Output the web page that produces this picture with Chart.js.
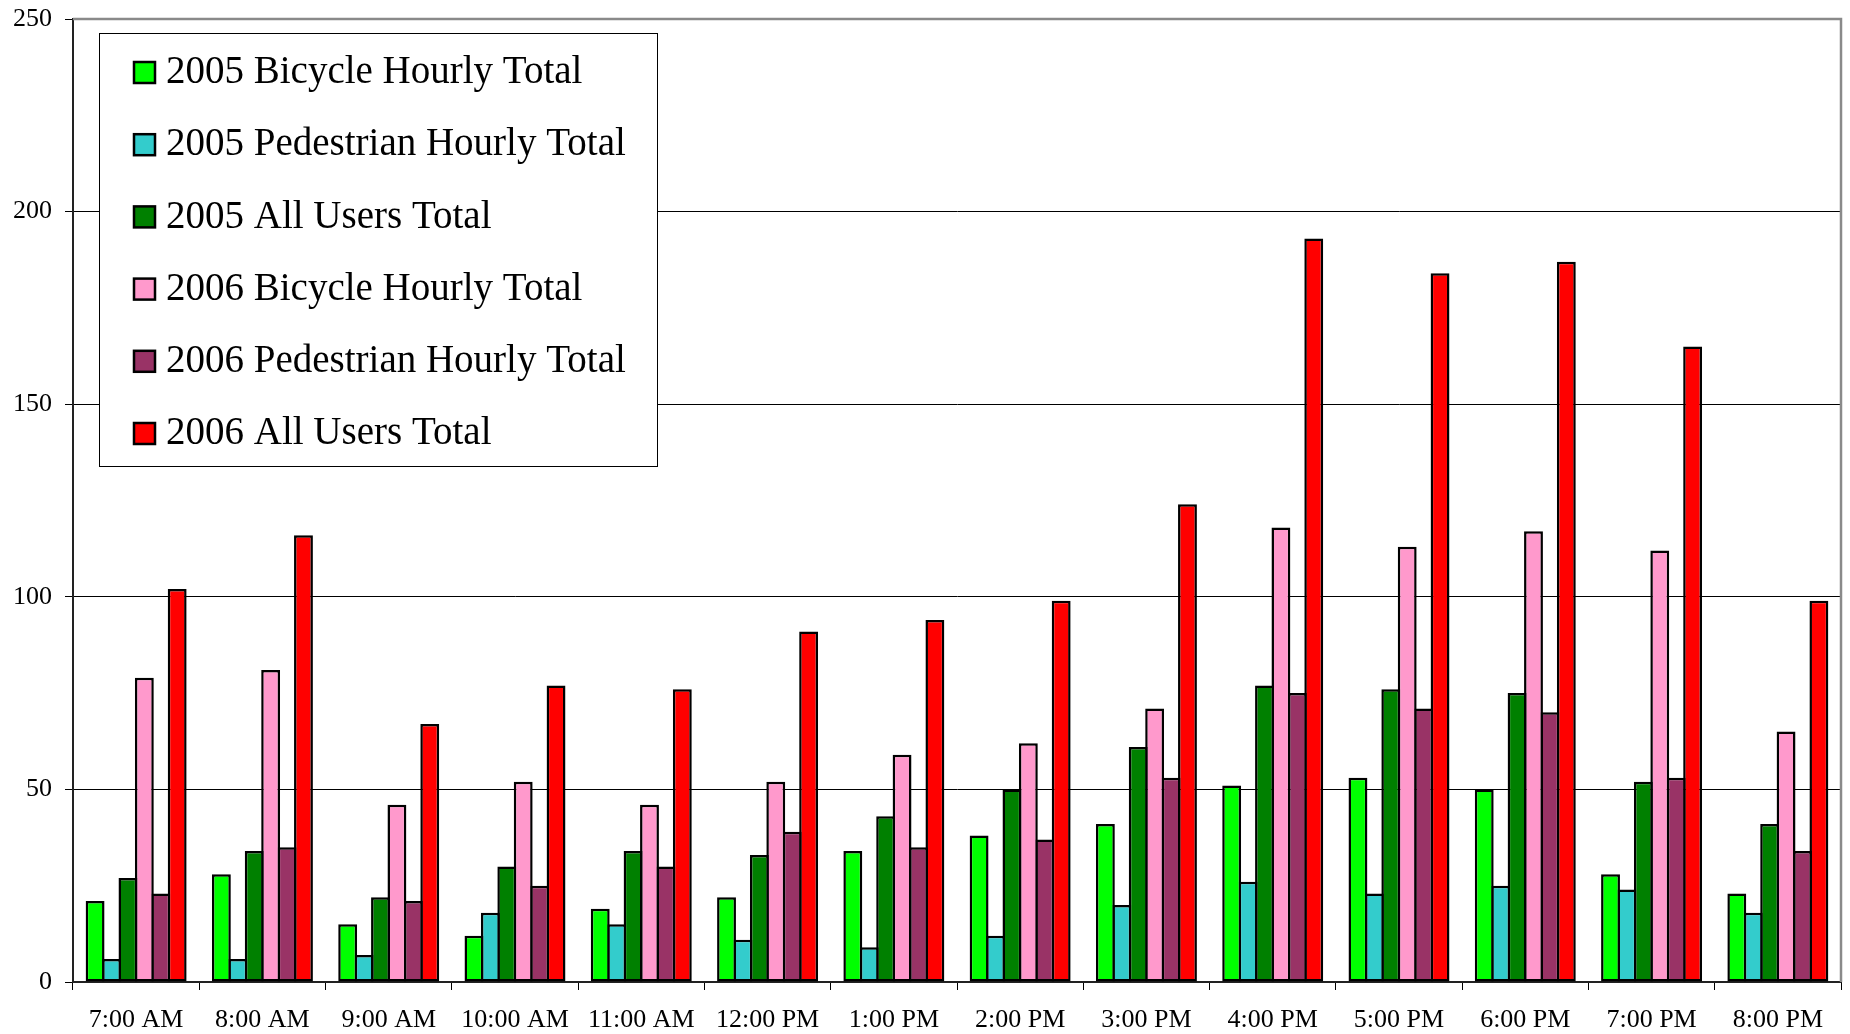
<!DOCTYPE html>
<html>
<head>
<meta charset="utf-8">
<title>Hourly Trail Counts 2005 / 2006</title>
<script src="https://cdn.jsdelivr.net/npm/chart.js@4/dist/chart.umd.min.js"></script>
<style>
  html, body { margin: 0; padding: 0; background: #ffffff; }
  #wrap { width: 1850px; height: 1034px; }
</style>
</head>
<body>
<div id="wrap"><canvas id="counts" width="1850" height="1034"></canvas></div>
<script>
// Hourly counts, one value per hour
const hours = ['7:00 AM', '8:00 AM', '9:00 AM', '10:00 AM', '11:00 AM', '12:00 PM', '1:00 PM',
               '2:00 PM', '3:00 PM', '4:00 PM', '5:00 PM', '6:00 PM', '7:00 PM', '8:00 PM'];
const bike2005 = [21, 28, 15, 12, 19, 22, 34, 38, 41, 51, 53, 50, 28, 23];
const ped2005  = [6, 6, 7, 18, 15, 11, 9, 12, 20, 26, 23, 25, 24, 18];
const all2005  = [27, 34, 22, 30, 34, 33, 43, 50, 61, 77, 76, 75, 52, 41];
const bike2006 = [79, 81, 46, 52, 46, 52, 59, 62, 71, 118, 113, 117, 112, 65];
const ped2006  = [23, 35, 21, 25, 30, 39, 35, 37, 53, 75, 71, 70, 53, 34];
const all2006  = [102, 116, 67, 77, 76, 91, 94, 99, 124, 193, 184, 187, 165, 99];
const yTicks   = [0, 50, 100, 150, 200, 250];

const seriesNames = ['2005 Bicycle Hourly Total', '2005 Pedestrian Hourly Total', '2005 All Users Total',
                     '2006 Bicycle Hourly Total', '2006 Pedestrian Hourly Total', '2006 All Users Total'];
const seriesValues = [bike2005, ped2005, all2005, bike2006, ped2006, all2006];
const seriesColors = ['#00ff00', '#33cccc', '#008000', '#ff99cc', '#993366', '#ff0000'];

const SERIF = "'Liberation Serif', 'Times New Roman', serif";

// Legend box drawn inside the plot area, upper left
const boxedLegend = {
  id: 'boxedLegend',
  afterDatasetsDraw(chart) {
    const { ctx, chartArea: a } = chart;
    const x0 = a.left + 26, y0 = a.top + 14, w = 558, h = 433;
    ctx.save();
    ctx.fillStyle = '#ffffff';
    ctx.fillRect(x0, y0, w, h);
    ctx.strokeStyle = '#000000';
    ctx.lineWidth = 1;
    ctx.strokeRect(x0 + 0.5, y0 + 0.5, w, h);
    ctx.font = '39px ' + SERIF;
    ctx.textBaseline = 'middle';
    ctx.textAlign = 'left';
    chart.data.datasets.forEach((ds, i) => {
      const cy = y0 + 39 + i * 72.2;
      ctx.fillStyle = ds.backgroundColor;
      ctx.fillRect(x0 + 35, cy - 10, 21, 21);
      ctx.strokeStyle = '#000000';
      ctx.lineWidth = 2.5;
      ctx.strokeRect(x0 + 35, cy - 10, 21, 21);
      ctx.fillStyle = '#000000';
      ctx.fillText(ds.label, x0 + 67, cy + 1);
    });
    ctx.restore();
  },
  afterDraw(chart) {
    // grey plot-area frame along the top and right edges
    const { ctx, chartArea: a } = chart;
    ctx.save();
    ctx.strokeStyle = '#8a8a8a';
    ctx.lineWidth = 2.5;
    ctx.beginPath();
    ctx.moveTo(a.left, a.top);
    ctx.lineTo(a.right, a.top);
    ctx.lineTo(a.right, a.bottom);
    ctx.stroke();
    ctx.restore();
  }
};

new Chart(document.getElementById('counts'), {
  type: 'bar',
  data: {
    labels: hours,
    datasets: seriesNames.map((name, i) => ({
      label: name,
      data: seriesValues[i],
      backgroundColor: seriesColors[i],
      borderColor: '#000000',
      borderWidth: 2.5,
      borderSkipped: false,
      categoryPercentage: 0.78,
      barPercentage: 1.15
    }))
  },
  options: {
    responsive: false,
    animation: false,
    devicePixelRatio: 1,
    layout: { padding: { left: 0, right: 9, top: 19, bottom: 0 } },
    plugins: { legend: { display: false }, tooltip: { enabled: false } },
    scales: {
      x: {
        grid: { offset: true, drawOnChartArea: false, color: '#000000', tickLength: 8, lineWidth: 1 },
        border: { display: true, color: '#222222', width: 2 },
        ticks: { font: { family: SERIF, size: 26 }, color: '#000000', padding: 15,
                 maxRotation: 0, autoSkip: false },
        afterFit(scale) { scale.height = 52; }
      },
      y: {
        min: 0,
        max: 250,
        afterBuildTicks(scale) { scale.ticks = yTicks.map(v => ({ value: v })); },
        grid: { color: '#000000', lineWidth: 1, tickLength: 8 },
        border: { display: true, color: '#222222', width: 2 },
        ticks: { font: { family: SERIF, size: 26 }, color: '#000000', padding: 13 },
        afterFit(scale) {
          scale.width = 73;
          scale.paddingTop = 0;
          scale.paddingBottom = 0;
        }
      }
    }
  },
  plugins: [boxedLegend]
});
</script>
</body>
</html>
